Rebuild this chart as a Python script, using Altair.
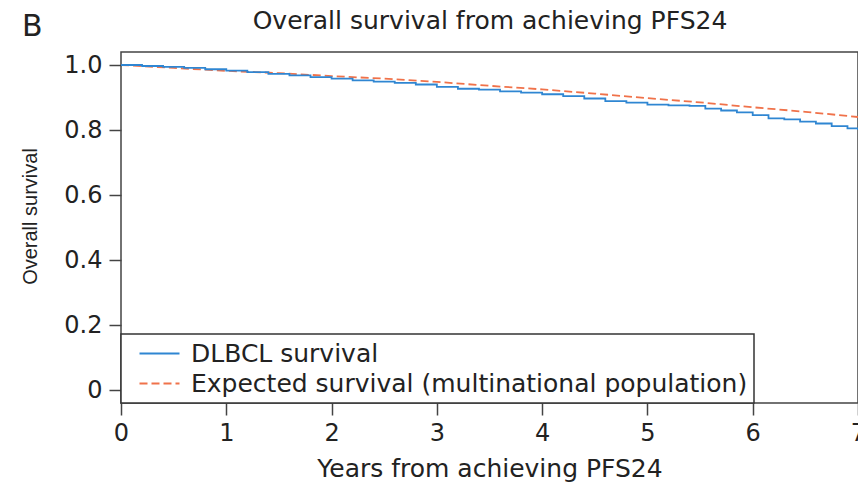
import altair as alt
import pandas as pd

# ---- data ----
series_names = ["DLBCL survival", "Expected survival (multinational population)"]

dlbcl_years = [0.0, 0.2, 0.4, 0.6, 0.8, 1.0, 1.2, 1.4, 1.6, 1.8, 2.0, 2.2, 2.4, 2.6, 2.8,
               3.0, 3.2, 3.4, 3.6, 3.8, 4.0, 4.2, 4.4, 4.6, 4.8, 5.0, 5.2, 5.4, 5.55, 5.7,
               5.85, 6.0, 6.15, 6.3, 6.45, 6.6, 6.75, 6.9, 7.0]
dlbcl_surv = [1.0, 0.997, 0.994, 0.991, 0.987, 0.983, 0.978, 0.973, 0.968, 0.963, 0.958,
              0.953, 0.949, 0.945, 0.940, 0.933, 0.927, 0.924, 0.919, 0.915, 0.910, 0.904,
              0.897, 0.889, 0.884, 0.878, 0.876, 0.874, 0.866, 0.860, 0.854, 0.846, 0.836,
              0.833, 0.826, 0.820, 0.812, 0.805, 0.800]

expected_years = [0.0, 0.5, 1.0, 1.5, 2.0, 2.5, 3.0, 3.5, 4.0, 4.5, 5.0, 5.5, 6.0, 6.5, 7.0]
expected_surv = [1.0, 0.991, 0.982, 0.975, 0.966, 0.958, 0.948, 0.936, 0.925, 0.912,
                 0.898, 0.885, 0.870, 0.856, 0.840]

x_ticks = [0, 1, 2, 3, 4, 5, 6, 7]
y_ticks = [0, 0.2, 0.4, 0.6, 0.8, 1.0]

panel_letter = ["B"]
chart_title = ["Overall survival from achieving PFS24"]

colors = ["#2f86d2", "#f0724a"]

df_dlbcl = pd.DataFrame({"t": dlbcl_years, "s": dlbcl_surv, "series": series_names[0]})
df_exp = pd.DataFrame({"t": expected_years, "s": expected_surv, "series": series_names[1]})
df_letter = pd.DataFrame({"label": panel_letter})
df_title = pd.DataFrame({"label": chart_title})

FONT = "DejaVu Sans"

x_enc = alt.X("t:Q", scale=alt.Scale(domain=[0, 7], nice=False),
              axis=alt.Axis(values=x_ticks, title="Years from achieving PFS24", format="d"))
y_enc = alt.Y("s:Q", scale=alt.Scale(domain=[-0.04, 1.04], nice=False, zero=False),
              axis=alt.Axis(values=y_ticks, title="Overall survival",
                            labelExpr="datum.value == 0 ? '0' : format(datum.value, '.1f')",
                            titleFont="Liberation Sans", titleFontSize=20,
                            titleAngle=270, titleAlign="center", titleBaseline="middle",
                            titleX=-91, titleY=164))
legend_common = dict(title=None, labelExpr="datum.label + '\u00a0\u00a0'")
color_enc = alt.Color("series:N",
                      scale=alt.Scale(domain=series_names, range=colors),
                      legend=alt.Legend(**legend_common))
dash_enc = alt.StrokeDash("series:N",
                          scale=alt.Scale(domain=series_names, range=[[1, 0], [8, 4]]),
                          legend=alt.Legend(**legend_common))

blue_line = alt.Chart(df_dlbcl).mark_line(interpolate="step-after", strokeWidth=1.8).encode(
    x=x_enc, y=y_enc, color=color_enc, strokeDash=dash_enc)
exp_line = alt.Chart(df_exp).mark_line(strokeWidth=1.8).encode(
    x=x_enc, y=y_enc, color=color_enc, strokeDash=dash_enc)

letter = alt.Chart(df_letter).mark_text(font=FONT, fontSize=30, align="left",
                                        baseline="alphabetic", color="#222").encode(
    text="label:N", x=alt.value(-99), y=alt.value(-16))

title_text = alt.Chart(df_title).mark_text(font=FONT, fontSize=25, align="center",
                                           baseline="alphabetic", color="#222").encode(
    text="label:N", x=alt.value(369), y=alt.value(-23))

chart = alt.layer(exp_line, blue_line, letter, title_text).properties(
    width=737, height=351,
    autosize=alt.AutoSizeParams(type="none"),
    padding={"left": 121, "top": 52, "right": 0, "bottom": 80},
).configure_view(
    stroke="#444", strokeWidth=1.5
).configure_axis(
    grid=False, domain=False, tickColor="#444", tickWidth=1.5, tickSize=12,
    labelFont=FONT, labelFontSize=24, labelColor="#222", labelPadding=6,
    titleFont=FONT, titleFontSize=25, titleFontWeight="normal", titleColor="#222"
).configure_axisX(
    titlePadding=11, labelFlush=False
).configure_axisY(
    labelPadding=7
).configure_legend(
    orient="none", legendX=0, legendY=282, strokeColor="#333", strokeWidth=1.5,
    fillColor="white", padding=6, symbolType="M-1.6,0H1.6", symbolSize=625,
    symbolStrokeWidth=1.8, symbolOffset=19, labelOffset=18, rowPadding=3,
    labelFont=FONT, labelFontSize=25, labelColor="#222", labelLimit=0
)

chart.save("out.html", embed_options={"renderer": "svg", "actions": False})
